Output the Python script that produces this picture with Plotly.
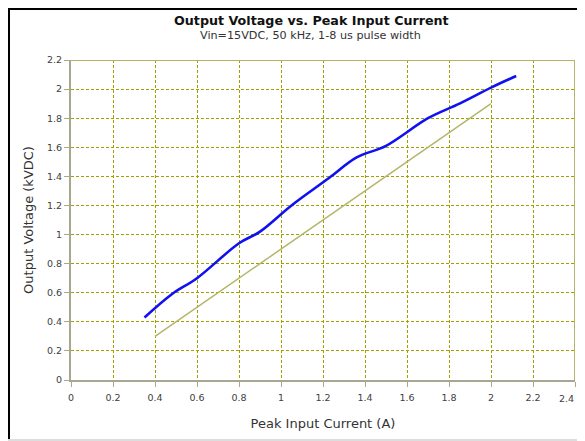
import plotly.graph_objects as go

# Data
measured_current = [0.35, 0.48, 0.60, 0.80, 0.90, 1.05, 1.23, 1.36, 1.50, 1.70, 1.85, 2.00, 2.12]
measured_voltage = [0.43, 0.59, 0.70, 0.94, 1.02, 1.20, 1.39, 1.53, 1.61, 1.80, 1.90, 2.01, 2.09]
ref_current = [0.4, 2.0]
ref_voltage = [0.3, 1.9]
x_ticks = [0, 0.2, 0.4, 0.6, 0.8, 1, 1.2, 1.4, 1.6, 1.8, 2, 2.2, 2.4]
y_ticks = [0, 0.2, 0.4, 0.6, 0.8, 1, 1.2, 1.4, 1.6, 1.8, 2, 2.2]

fig = go.Figure()
fig.add_trace(go.Scatter(x=ref_current, y=ref_voltage, mode="lines",
                         line=dict(color="#B5B56A", width=1.5), showlegend=False))
fig.add_trace(go.Scatter(x=measured_current, y=measured_voltage, mode="lines",
                         line=dict(color="#1010F0", width=2.6, shape="spline", smoothing=1.0),
                         showlegend=False))

font_family = "DejaVu Sans"
tick_font = dict(family=font_family, size=9.5, color="#404040")
axis_common = dict(
    showgrid=True, gridcolor="#A0A000", griddash="3px,2px", gridwidth=1,
    showline=True, linecolor="#A8A890", linewidth=2, mirror=False,
    ticks="outside", ticklen=5, tickcolor="#A8A890",
    tickfont=tick_font,
    zeroline=False, automargin=False,
)

# The page body adds an 8px offset; the visible area ends near x=577 of the window.
W, H = 577, 433
L, R, T, B = 63, 10, 52, 61
PW, PH = W - L - R, H - T - B

# last x tick label is drawn as an annotation so it is not clipped at the right edge
x_ticktext = [f"{v:g}" for v in x_ticks]
last_label = x_ticktext[-1]
x_ticktext[-1] = ""

fig.update_layout(
    width=W, height=H,
    margin=dict(l=L, r=R, t=T, b=B, autoexpand=False),
    paper_bgcolor="white", plot_bgcolor="white",
    xaxis=dict(range=[0, 2.4], tickvals=x_ticks, ticktext=x_ticktext, ticklabelstandoff=3,
               title=dict(text="Peak Input Current (A)", font=dict(family=font_family, size=13, color="#333333"),
                          standoff=16),
               **axis_common),
    yaxis=dict(range=[0, 2.2], tickvals=y_ticks, ticktext=[f"{v:g}" for v in y_ticks],
               title=dict(text="Output Voltage (kVDC)", font=dict(family=font_family, size=13, color="#333333"),
                          standoff=10),
               **axis_common),
    shapes=[
        # plot frame top/right
        dict(type="line", xref="x", yref="y", x0=0, x1=2.4, y0=2.2, y1=2.2,
             line=dict(color="#B5B56A", width=2)),
        dict(type="line", xref="x", yref="y", x0=2.4, x1=2.4, y0=0, y1=2.2,
             line=dict(color="#B5B56A", width=2)),
        # outer screenshot frame
        dict(type="line", xref="paper", yref="paper", x0=-L/PW, x1=(W - L)/PW,
             y0=1 + T/PH, y1=1 + T/PH, line=dict(color="black", width=4)),
        dict(type="line", xref="paper", yref="paper", x0=-L/PW, x1=-L/PW,
             y0=1 + T/PH, y1=-(B - 1)/PH, line=dict(color="black", width=4)),
        dict(type="line", xref="paper", yref="paper", x0=-L/PW, x1=(W - L)/PW,
             y0=-(B - 1)/PH, y1=-(B - 1)/PH, line=dict(color="#DDDDDD", width=2)),
    ],
    annotations=[
        dict(text="<b>Output Voltage vs. Peak Input Current</b>", xref="paper", yref="paper",
             x=(303 - L) / PW, y=1 + (T - 12) / PH, xanchor="center", yanchor="middle",
             showarrow=False, font=dict(family=font_family, size=12.7, color="#111111")),
        dict(text="Vin=15VDC, 50 kHz, 1-8 us pulse width", xref="paper", yref="paper",
             x=(302 - L) / PW, y=1 + (T - 27) / PH, xanchor="center", yanchor="middle",
             showarrow=False, font=dict(family=font_family, size=11.2, color="#333333")),
        dict(text=last_label, xref="paper", yref="paper",
             x=(568 - L) / PW, y=-18 / PH, xanchor="right", yanchor="middle",
             showarrow=False, font=tick_font),
    ],
)

fig.write_html("out.html")
